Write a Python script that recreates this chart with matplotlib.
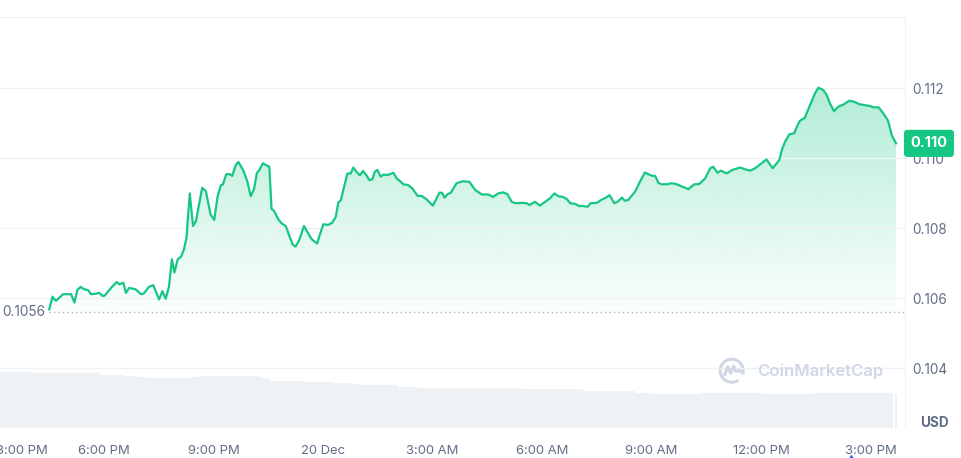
import matplotlib
matplotlib.use("Agg")
import matplotlib.pyplot as plt
import matplotlib.transforms as mtransforms
from matplotlib.patches import Arc
from matplotlib.lines import Line2D
from matplotlib.colors import to_rgb
import numpy as np

# hours after 18 Dec 3:00 PM
times = [1.50, 1.59, 1.68, 1.88, 2.10, 2.19, 2.27, 2.36, 2.46, 2.56,
         2.65, 2.80, 2.87, 2.96, 3.02, 3.21, 3.35, 3.42, 3.53, 3.60,
         3.69, 3.87, 4.01, 4.09, 4.23, 4.35, 4.51, 4.60, 4.69, 4.78,
         4.86, 4.93, 5.02, 5.11, 5.19, 5.26, 5.35, 5.44, 5.52, 5.69,
         5.79, 5.92, 6.02, 6.11, 6.20, 6.26, 6.35, 6.45, 6.51, 6.61,
         6.68, 6.82, 6.93, 7.02, 7.11, 7.19, 7.26, 7.35, 7.46, 7.53,
         7.59, 7.66, 7.77, 7.87, 7.98, 8.07, 8.17, 8.25, 8.35, 8.48,
         8.57, 8.69, 8.84, 8.91, 9.01, 9.14, 9.25, 9.35, 9.42, 9.49,
         9.59, 9.67, 9.76, 9.83, 9.94, 10.01, 10.10, 10.19, 10.27, 10.35,
         10.42, 10.49, 10.58, 10.67, 10.76, 10.93, 11.02, 11.11, 11.20, 11.33,
         11.45, 11.59, 11.70, 11.84, 12.01, 12.19, 12.26, 12.33, 12.40, 12.50,
         12.66, 12.83, 13.01, 13.17, 13.35, 13.53, 13.66, 13.80, 13.94, 14.05,
         14.17, 14.28, 14.45, 14.58, 14.66, 14.81, 14.94, 15.13, 15.22, 15.34,
         15.45, 15.57, 15.68, 15.77, 15.91, 16.02, 16.13, 16.25, 16.33, 16.51,
         16.61, 16.75, 16.85, 16.98, 17.07, 17.19, 17.27, 17.36, 17.55, 17.68,
         17.82, 17.91, 18.03, 18.10, 18.19, 18.28, 18.42, 18.55, 18.67, 18.85,
         19.01, 19.17, 19.31, 19.47, 19.61, 19.69, 19.81, 19.90, 20.06, 20.21,
         20.43, 20.56, 20.70, 20.84, 20.99, 21.15, 21.32, 21.50, 21.57, 21.66,
         21.78, 21.91, 21.98, 22.06, 22.20, 22.34, 22.48, 22.57, 22.71, 22.80,
         22.89, 23.00, 23.12, 23.26, 23.42, 23.55, 23.69, 23.85, 23.97, 24.08,
         24.22, 24.34, 24.48, 24.58, 24.70]

prices = [0.10568, 0.10604, 0.10592, 0.10611, 0.10611, 0.10587, 0.10623, 0.10632, 0.10625, 0.10623,
          0.10611, 0.10613, 0.10615, 0.10606, 0.10607, 0.10631, 0.10646, 0.10639, 0.10644, 0.10615,
          0.10629, 0.10625, 0.10611, 0.10613, 0.10632, 0.10637, 0.10596, 0.10620, 0.10598, 0.10632,
          0.10711, 0.10673, 0.10711, 0.10718, 0.10739, 0.10772, 0.10899, 0.10806, 0.10820, 0.10915,
          0.10906, 0.10839, 0.10823, 0.10889, 0.10922, 0.10925, 0.10954, 0.10954, 0.10949, 0.10980,
          0.10989, 0.10964, 0.10932, 0.10891, 0.10911, 0.10958, 0.10966, 0.10985, 0.10979, 0.10975,
          0.10855, 0.10849, 0.10826, 0.10813, 0.10806, 0.10780, 0.10753, 0.10747, 0.10766, 0.10806,
          0.10789, 0.10768, 0.10756, 0.10780, 0.10811, 0.10809, 0.10815, 0.10832, 0.10873, 0.10880,
          0.10923, 0.10956, 0.10956, 0.10973, 0.10958, 0.10951, 0.10963, 0.10951, 0.10937, 0.10939,
          0.10961, 0.10966, 0.10947, 0.10953, 0.10951, 0.10958, 0.10942, 0.10934, 0.10925, 0.10923,
          0.10913, 0.10892, 0.10892, 0.10882, 0.10864, 0.10901, 0.10901, 0.10887, 0.10896, 0.10901,
          0.10928, 0.10934, 0.10932, 0.10909, 0.10896, 0.10896, 0.10889, 0.10899, 0.10902, 0.10897,
          0.10875, 0.10871, 0.10872, 0.10871, 0.10866, 0.10875, 0.10864, 0.10878, 0.10885, 0.10899,
          0.10891, 0.10889, 0.10883, 0.10871, 0.10869, 0.10863, 0.10863, 0.10861, 0.10871, 0.10872,
          0.10880, 0.10887, 0.10894, 0.10871, 0.10875, 0.10887, 0.10878, 0.10880, 0.10904, 0.10932,
          0.10959, 0.10954, 0.10949, 0.10949, 0.10929, 0.10925, 0.10925, 0.10928, 0.10926, 0.10918,
          0.10911, 0.10925, 0.10926, 0.10942, 0.10971, 0.10975, 0.10958, 0.10964, 0.10956, 0.10966,
          0.10973, 0.10968, 0.10964, 0.10971, 0.10983, 0.10996, 0.10971, 0.10994, 0.11023, 0.11047,
          0.11068, 0.11071, 0.11089, 0.11106, 0.11115, 0.11151, 0.11185, 0.11201, 0.11194, 0.11180,
          0.11156, 0.11134, 0.11147, 0.11153, 0.11164, 0.11161, 0.11154, 0.11151, 0.11149, 0.11145,
          0.11145, 0.11129, 0.11107, 0.11066, 0.11042]

base_price = 0.1056
last_label = "0.110"

# volume, drawn as steps (arbitrary units)
vol_start = [0.00, 1.06, 2.89, 3.52, 3.91, 4.12, 5.41, 5.63, 7.22, 7.36, 7.55, 8.45, 9.25,
             9.74, 9.96, 11.06, 11.60, 14.43, 16.12, 17.55, 18.04, 19.33, 21.02, 22.48, 24.66]
vol_end = [1.06, 2.89, 3.52, 3.91, 4.12, 5.41, 5.63, 7.22, 7.36, 7.55, 8.45, 9.25, 9.74,
           9.96, 11.06, 11.60, 14.43, 16.12, 17.55, 18.04, 19.33, 21.02, 22.48, 24.61, 24.72]
vol_level = [5.60, 5.50, 5.33, 5.23, 5.10, 5.00, 5.13, 5.26, 5.10, 4.90, 4.73, 4.60, 4.50,
             4.43, 4.30, 4.16, 4.03, 3.93, 3.76, 3.56, 3.46, 3.50, 3.40, 3.50, 3.33]

tick_hours = [0.745, 3, 6, 9, 12, 15, 18, 21, 24]
tick_labels = ["3:00 PM", "6:00 PM", "9:00 PM", "20 Dec", "3:00 AM", "6:00 AM",
               "9:00 AM", "12:00 PM", "3:00 PM"]
price_ticks = [0.104, 0.106, 0.108, 0.110, 0.112]
price_labels = ["0.104", "0.106", "0.108", "0.110", "0.112"]

GREEN = "#16c784"
GRAY = "#616e85"
LINE = "#eff2f5"


def main():
    plt.rcParams['font.family'] = ['Inter', 'DejaVu Sans']
    fig = plt.figure(figsize=(9.61, 4.58), dpi=100)
    ax = fig.add_axes([0, 29.7 / 458, 905 / 961, 411.3 / 458])
    ax2 = ax.twinx()
    ax.set_zorder(ax2.get_zorder() + 1)
    ax.patch.set_visible(False)

    # volume bars
    widths = np.subtract(vol_end, vol_start)
    ax2.bar(vol_start, vol_level, width=widths, align='edge', color=LINE, linewidth=0)
    ax2.set_ylim(0, 41.13)
    ax2.set_yticks([])
    for s in ax2.spines.values():
        s.set_visible(False)

    # gradient area under price line
    poly = ax.fill_between(times, prices, base_price, color='none', linewidth=0)
    r, g, b = to_rgb(GREEN)
    grad = np.zeros((100, 1, 4))
    grad[..., 0], grad[..., 1], grad[..., 2] = r, g, b
    grad[:, 0, 3] = np.linspace(0.33, 0.02, 100)
    img = ax.imshow(grad, aspect='auto', origin='upper', zorder=1,
                    extent=[times[0], times[-1], base_price, max(prices)])
    img.set_clip_path(poly.get_paths()[0], transform=ax.transData)

    ax.plot(times, prices, color=GREEN, lw=1.6, zorder=3, solid_joinstyle='round')
    ax.hlines(base_price, times[0], 24.945, colors="#a6b0c3", lw=1,
              linestyles=(0, (1, 2.2)), zorder=2)

    ax.set_xlim(0.151, 24.945)
    ax.set_ylim(0.10228, 0.11403)

    ax.set_xticks(tick_hours, tick_labels)
    ax.yaxis.tick_right()
    ax.set_yticks(price_ticks, price_labels)
    ax.tick_params(axis='x', length=0, pad=12, labelsize=9.4, labelcolor=GRAY)
    ax.tick_params(axis='y', length=0, pad=5, labelsize=9.8, labelcolor=GRAY)
    ax.grid(axis='y', color=LINE, lw=1, zorder=0)
    ax.grid(axis='x', visible=False)
    ax.spines['left'].set_visible(False)
    ax.spines['bottom'].set_visible(False)
    ax.spines['top'].set_color(LINE)
    ax.spines['right'].set_color(LINE)

    # current price tag
    tag = mtransforms.blended_transform_factory(ax.transAxes, ax.transData)
    ax.text(1.0265, prices[-1], last_label, transform=tag, ha='center', va='center',
            color='white', fontsize=10.5, fontweight='bold', clip_on=False, zorder=5,
            bbox=dict(boxstyle="round,pad=0.45,rounding_size=0.25", fc=GREEN, ec='none'))

    # open price label
    op = mtransforms.blended_transform_factory(fig.transFigure, ax.transData)
    ax.text(2.7 / 961, base_price, "0.1056", transform=op, ha='left', va='center',
            color=GRAY, fontsize=9.8)

    fig.text(934 / 961, (458 - 423) / 458, "USD", ha='center', va='center',
             color=GRAY, fontsize=9.8, fontweight='bold')

    # watermark
    wm = "#cfd6e4"
    cx, cy = 7.317, 0.873
    fig.add_artist(Arc((cx, cy), 0.23, 0.23, theta1=-15, theta2=305, lw=2.2,
                       color=wm, transform=fig.dpi_scale_trans))
    wx = [cx - 0.07, cx - 0.04, cx - 0.01, cx + 0.02, cx + 0.045, cx + 0.075, cx + 0.11]
    wy = [cy - 0.04, cy + 0.04, cy - 0.025, cy + 0.045, cy - 0.01, cy + 0.005, cy - 0.025]
    fig.add_artist(Line2D(wx, wy, lw=2.2, color=wm, transform=fig.dpi_scale_trans,
                          solid_joinstyle='round', solid_capstyle='round'))
    fig.text(756.7 / 961, (458 - 371.7) / 458, "CoinMarketCap", ha='left', va='center',
             color=wm, fontsize=12, fontweight='semibold')

    fig.add_artist(Line2D([851 / 961], [0.5 / 458], marker='^', markersize=5,
                          color='#3861fb', linestyle='none', transform=fig.transFigure))

    fig.savefig("out.png", dpi=100, facecolor='white')


if __name__ == "__main__":
    main()
